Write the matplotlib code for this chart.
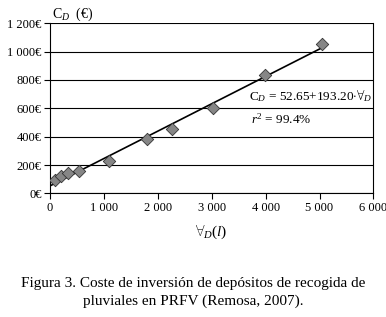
import numpy as np
import matplotlib
matplotlib.use("Agg")
import matplotlib.pyplot as plt

plt.rcParams['font.family'] = ['Liberation Serif', 'DejaVu Serif']
plt.rcParams['mathtext.fontset'] = 'custom'
plt.rcParams['mathtext.rm'] = 'Liberation Serif'
plt.rcParams['mathtext.it'] = 'Liberation Serif:italic'

# data
volume_l = [100, 200, 340, 545, 1095, 1800, 2265, 3020, 3995, 5045]
cost_eur = [94, 122, 145, 160, 230, 381, 453, 600, 835, 1056]

# fitted line C_D = a + b * V (V in m3)
fit_a = 52.65
fit_b = 193.20
fit_range = [0, 5045]

x_ticks = [0, 1000, 2000, 3000, 4000, 5000, 6000]
x_labels = ['0', '1 000', '2 000', '3 000', '4 000', '5 000', '6 000']
y_ticks = [0, 200, 400, 600, 800, 1000, 1200]
y_labels = ['0€', '200€', '400€', '600€', '800€', '1 000€', '1 200€']

fig = plt.figure(figsize=(3.86, 3.17), dpi=100)
ax = fig.add_axes([0.1295, 0.390, 0.838, 0.5365])

xs = np.array(fit_range, dtype=float)
ax.plot(xs, fit_a + fit_b * xs / 1000.0, color='black', lw=1.2, zorder=2)
ax.scatter(volume_l, cost_eur, marker='D', s=40, color='#868686',
           edgecolors='#333333', linewidths=0.6, zorder=3)

ax.set_xlim(0, 6000)
ax.set_ylim(0, 1200)
ax.set_xticks(x_ticks)
ax.set_xticklabels(x_labels)
ax.set_yticks(y_ticks)
ax.set_yticklabels(y_labels)
ax.tick_params(labelsize=9, length=4, width=0.8, direction='out', pad=2)
ax.yaxis.grid(True, color='black', lw=0.8)
ax.set_axisbelow(True)
ax.spines['top'].set_visible(False)
for sp in ax.spines.values():
    sp.set_linewidth(0.8)

ax.text(3700, 660, r'C$_D$ = 52.65+193.20$\cdot\forall_D$', fontsize=9.5)
ax.text(3730, 490, r'$r^2$ = 99.4%', fontsize=9.5)

fig.text(0.135, 0.945, r'C$_D$  (€)', fontsize=10)
fig.text(0.548, 0.255, r'$\forall_D(l)$', fontsize=11, ha='center')

fig.text(0.5, 0.107, 'Figura 3. Coste de inversión de depósitos de recogida de',
         fontsize=11, ha='center', va='center')
fig.text(0.5, 0.050, 'pluviales en PRFV (Remosa, 2007).',
         fontsize=11, ha='center', va='center')

plt.savefig("out.png", dpi=100)
